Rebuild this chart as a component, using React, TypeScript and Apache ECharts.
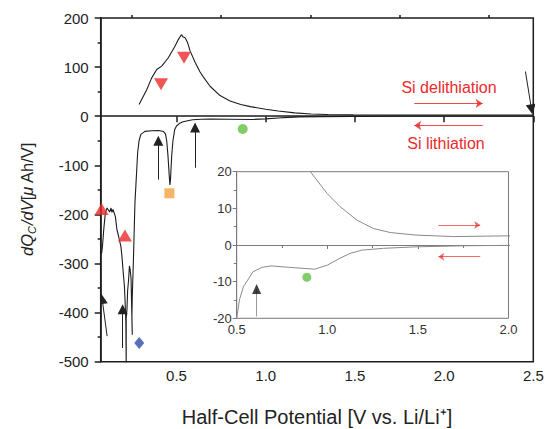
import React, { useEffect, useRef } from 'react';
import * as echarts from 'echarts';

const FONT = '"Liberation Sans", Arial, sans-serif';

// Delithiation branch (positive dQ/dV), potential in V vs. Li/Li+
const delithV = [0.29, 0.333, 0.361, 0.389, 0.417, 0.454, 0.492, 0.51, 0.522, 0.529, 0.535, 0.548, 0.562, 0.576, 0.604, 0.632, 0.65, 0.688, 0.744, 0.8, 0.86, 0.914, 1.0, 1.07, 1.163, 1.254, 1.347, 1.49, 1.7, 2.0, 2.5];
const delithQ = [24, 54, 78, 95, 102, 119, 143, 156, 163, 166, 162, 160, 150, 133, 110, 90, 80, 61, 42, 31, 24, 19.5, 14, 10.5, 6.8, 4.5, 3.4, 2.7, 2.3, 2.5, 2.5];

// Lithiation branch, traced from high to low potential
const lithV = [2.5, 2.0, 1.77, 1.49, 1.31, 1.19, 1.126, 1.07, 1.0, 0.93, 0.79, 0.69, 0.64, 0.59, 0.537, 0.515, 0.5, 0.49, 0.48, 0.473, 0.466, 0.463, 0.459, 0.452, 0.445, 0.438, 0.426, 0.4, 0.36, 0.323, 0.3, 0.29, 0.282, 0.277, 0.267, 0.262, 0.258, 0.252, 0.25, 0.252, 0.245, 0.24, 0.236, 0.231, 0.226, 0.222, 0.218, 0.218, 0.216, 0.212, 0.208, 0.203, 0.194, 0.188, 0.175, 0.166, 0.157, 0.144, 0.138, 0.133, 0.125, 0.111, 0.101, 0.092, 0.085, 0.08];
const lithQ = [-0.1, -0.1, -0.2, -0.5, -0.9, -1.4, -2.3, -3.6, -5.5, -6.6, -6.1, -5.7, -6.1, -7.3, -11.4, -15, -20, -27, -50, -80, -130, -140, -120, -80, -50, -36, -31, -29, -29.5, -31, -37, -50, -75, -109, -176, -244, -298, -367, -407, -445, -330, -312, -305, -335, -355, -395, -410, -510, -420, -380, -346, -326, -285, -265, -244, -231, -204, -190, -196, -187, -195, -187, -197, -231, -265, -280];

// Peak markers
const redDownV = [0.413, 0.542];
const redDownQ = [65, 119];
const redUpV = [0.08, 0.211];
const redUpQ = [-189, -243];
const orangeV = [0.46];
const orangeQ = [-157];
const blueV = [0.291];
const blueQ = [-462];
const greenV = [0.871];
const greenQ = [-26];
const insetGreenV = [0.887];
const insetGreenQ = [-8.8];

// Annotation arrows (tail -> head)
const blackFromV = [0.398, 0.604, 0.111, 0.198, 2.456];
const blackFromQ = [-129, -105, -448, -472, 91];
const blackToV = [0.398, 0.604, 0.083, 0.198, 2.49];
const blackToQ = [-50, -23, -372, -393, 14];
const redFromV = [1.833, 2.216];
const redFromQ = [26, -19];
const redToV = [2.216, 1.833];
const redToQ = [26, -19];
const insetBlackFromV = [0.61];
const insetBlackFromQ = [-19.5];
const insetBlackToV = [0.61];
const insetBlackToQ = [-12];
const insetRedFromV = [1.613, 1.844];
const insetRedFromQ = [5.45, -3.18];
const insetRedToV = [1.844, 1.613];
const insetRedToQ = [5.45, -3.18];

// Axis ticks
const xMajor = [0.5, 1.0, 1.5, 2.0, 2.5];
const xMinor = [0.25, 0.75, 1.25, 1.75, 2.25];

const zip = (a: number[], b: number[]) => a.map((v, i) => [v, b[i]]);
const segs = (fx: number[], fy: number[], tx: number[], ty: number[]) =>
  fx.map((_, i) => ({ coords: [[fx[i], fy[i]], [tx[i], ty[i]]] }));

const RED = '#ec2a2a';

function buildOption(): any {
  const mainLine = { color: '#1c1c1c', width: 1.5 };
  const insetLine = { color: '#7a7a7a', width: 1 };
  return {
    animation: false,
    backgroundColor: '#fff',
    grid: [
      { left: 100.7, right: 11.7, top: 18, bottom: 67.3, show: true, borderColor: '#1c1c1c', borderWidth: 1.5, backgroundColor: 'transparent', outerBoundsMode: 'none', containLabel: false },
      { left: 236.7, right: 36.5, top: 171.7, bottom: 110.7, show: true, borderColor: '#7a7a7a', borderWidth: 1, backgroundColor: '#fff', z: 5, outerBoundsMode: 'none', containLabel: false },
    ],
    xAxis: [
      {
        type: 'value', gridIndex: 0, min: 0.075, max: 2.5,
        axisLine: { lineStyle: mainLine },
        axisTick: { customValues: xMajor, length: 6, lineStyle: mainLine },
        axisLabel: { customValues: xMajor, formatter: (v: number) => v.toFixed(1), fontSize: 15, color: '#222', fontFamily: FONT, margin: 6 },
        splitLine: { show: false },
        name: 'Half-Cell Potential [V vs. Li/Li⁺]',
        nameLocation: 'middle', nameGap: 45,
        nameTextStyle: { fontSize: 20, color: '#222', fontFamily: FONT },
      },
      {
        type: 'value', gridIndex: 0, min: 0.075, max: 2.5,
        axisLine: { show: false },
        axisTick: { customValues: xMinor, length: 3, lineStyle: mainLine },
        axisLabel: { show: false },
        splitLine: { show: false },
      },
      {
        type: 'value', gridIndex: 1, min: 0.5, max: 2.0, interval: 0.5,
        axisLine: { lineStyle: insetLine },
        axisTick: { length: 4, lineStyle: insetLine },
        minorTick: { show: true, splitNumber: 2, length: 3, lineStyle: insetLine },
        axisLabel: { formatter: (v: number) => v.toFixed(1), fontSize: 13, color: '#333', fontFamily: FONT, margin: 5 },
        splitLine: { show: false },
        minorSplitLine: { show: false },
        z: 6,
      },
    ],
    yAxis: [
      {
        type: 'value', gridIndex: 0, min: -500, max: 200, interval: 100,
        axisLine: { lineStyle: mainLine },
        axisTick: { length: 6, lineStyle: mainLine },
        minorTick: { show: true, splitNumber: 2, length: 3, lineStyle: mainLine },
        axisLabel: { fontSize: 15, color: '#222', fontFamily: FONT, margin: 12 },
        splitLine: { show: false },
        minorSplitLine: { show: false },
      },
      {
        type: 'value', gridIndex: 1, min: -20, max: 20, interval: 10,
        axisLine: { lineStyle: insetLine },
        axisTick: { length: 4, lineStyle: insetLine },
        minorTick: { show: true, splitNumber: 2, length: 3, lineStyle: insetLine },
        axisLabel: { fontSize: 13, color: '#333', fontFamily: FONT, margin: 5 },
        splitLine: { show: false },
        minorSplitLine: { show: false },
        z: 6,
      },
    ],
    graphic: [
      {
        type: 'text', x: 27, y: 256, rotation: Math.PI / 2,
        style: {
          text: '{i|dQ}{s|C}{i|/dV}{n|[}{i|μ}{n| Ah/V]}',
          align: 'left', verticalAlign: 'middle',
          rich: {
            i: { fontSize: 16.5, fontStyle: 'italic', fontFamily: FONT, fill: '#222' },
            n: { fontSize: 16.5, fontFamily: FONT, fill: '#222' },
            s: { fontSize: 11, fontStyle: 'italic', fontFamily: FONT, fill: '#222', padding: [9, 1, 0, 0] },
          },
        },
      },
      { type: 'text', x: 449, y: 87, style: { text: 'Si delithiation', fontSize: 16, fontFamily: FONT, fill: RED, align: 'center', verticalAlign: 'middle' } },
      { type: 'text', x: 446, y: 143.5, style: { text: 'Si lithiation', fontSize: 16, fontFamily: FONT, fill: RED, align: 'center', verticalAlign: 'middle' } },
    ],
    series: [
      { type: 'line', xAxisIndex: 0, yAxisIndex: 0, data: zip(delithV, delithQ), symbol: 'none', lineStyle: { color: '#1c1c1c', width: 1.1 }, clip: true },
      { type: 'line', xAxisIndex: 0, yAxisIndex: 0, data: zip(lithV, lithQ), symbol: 'none', lineStyle: { color: '#1c1c1c', width: 1.1 }, clip: true },
      { type: 'line', xAxisIndex: 2, yAxisIndex: 1, data: zip(delithV, delithQ), symbol: 'none', lineStyle: { color: '#8a8a8a', width: 1 }, clip: true, z: 7 },
      { type: 'line', xAxisIndex: 2, yAxisIndex: 1, data: zip(lithV, lithQ), symbol: 'none', lineStyle: { color: '#8a8a8a', width: 1 }, clip: true, z: 7 },
      {
        type: 'lines', coordinateSystem: 'cartesian2d', xAxisIndex: 0, yAxisIndex: 0,
        data: segs(blackFromV, blackFromQ, blackToV, blackToQ),
        symbol: ['none', 'triangle'], symbolSize: 10,
        lineStyle: { color: '#222', width: 1, opacity: 1 }, z: 4,
      },
      {
        type: 'lines', coordinateSystem: 'cartesian2d', xAxisIndex: 0, yAxisIndex: 0,
        data: segs(redFromV, redFromQ, redToV, redToQ),
        symbol: ['none', 'arrow'], symbolSize: 7,
        lineStyle: { color: RED, width: 1, opacity: 0.85 }, z: 4,
      },
      {
        type: 'lines', coordinateSystem: 'cartesian2d', xAxisIndex: 2, yAxisIndex: 1,
        data: segs(insetBlackFromV, insetBlackFromQ, insetBlackToV, insetBlackToQ),
        symbol: 'none',
        lineStyle: { color: '#999', width: 1, opacity: 1 }, z: 8,
      },
      { type: 'scatter', xAxisIndex: 2, yAxisIndex: 1, data: zip(insetBlackToV, insetBlackToQ), symbol: 'triangle', symbolSize: [9, 10], itemStyle: { color: '#111' }, z: 9 },
      {
        type: 'lines', coordinateSystem: 'cartesian2d', xAxisIndex: 2, yAxisIndex: 1,
        data: segs(insetRedFromV, insetRedFromQ, insetRedToV, insetRedToQ),
        symbol: ['none', 'arrow'], symbolSize: 6,
        lineStyle: { color: RED, width: 1, opacity: 0.7 }, z: 8,
      },
      { type: 'scatter', xAxisIndex: 0, yAxisIndex: 0, data: zip(redDownV, redDownQ), symbol: 'triangle', symbolRotate: 180, symbolSize: [14, 12], itemStyle: { color: RED }, z: 5 },
      { type: 'scatter', xAxisIndex: 0, yAxisIndex: 0, data: zip(redUpV, redUpQ), symbol: 'triangle', symbolSize: [14, 12], itemStyle: { color: RED }, z: 5 },
      { type: 'scatter', xAxisIndex: 0, yAxisIndex: 0, data: zip(orangeV, orangeQ), symbol: 'rect', symbolSize: 10, itemStyle: { color: '#f5a040' }, z: 5 },
      { type: 'scatter', xAxisIndex: 0, yAxisIndex: 0, data: zip(blueV, blueQ), symbol: 'diamond', symbolSize: [10, 12], itemStyle: { color: '#2c4ca8' }, z: 5 },
      { type: 'scatter', xAxisIndex: 0, yAxisIndex: 0, data: zip(greenV, greenQ), symbol: 'circle', symbolSize: 10, itemStyle: { color: '#62c043' }, z: 5 },
      { type: 'scatter', xAxisIndex: 2, yAxisIndex: 1, data: zip(insetGreenV, insetGreenQ), symbol: 'circle', symbolSize: 9, itemStyle: { color: '#62c043' }, z: 8 },
    ],
  };
}

export default function App() {
  const ref = useRef<HTMLDivElement>(null);
  useEffect(() => {
    const chart = echarts.init(ref.current!, null, { renderer: 'svg' });
    chart.setOption(buildOption());
    return () => chart.dispose();
  }, []);
  return <div ref={ref} style={{ position: 'fixed', left: 0, top: 0, width: 545, height: 429 }} />;
}
